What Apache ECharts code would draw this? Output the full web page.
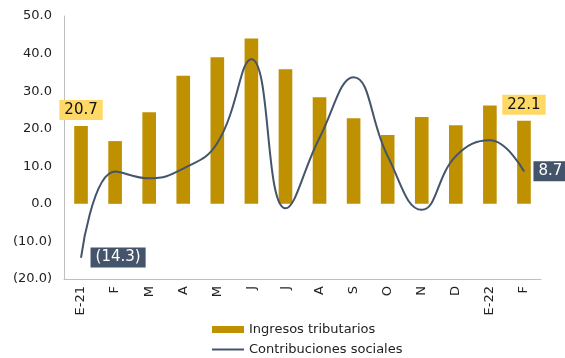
<!DOCTYPE html>
<html>
<head>
<meta charset="utf-8">
<script src="https://cdn.jsdelivr.net/npm/echarts@6/dist/echarts.min.js"></script>
<style>
  html, body { margin: 0; padding: 0; background: #fff; }
  #main { width: 565px; height: 358px; }
</style>
</head>
<body>
<div id="main"></div>
<script>
var months = ["E-21", "F", "M", "A", "M", "J", "J", "A", "S", "O", "N", "D", "E-22", "F"];
var ingresos = [20.7, 16.7, 24.4, 34.1, 39.0, 44.0, 35.8, 28.4, 22.8, 18.3, 23.1, 20.9, 26.2, 22.1];
var contribuciones = [-14.3, 8.6, 6.8, 9.4, 16.2, 38.5, -1.2, 17.6, 33.7, 12.7, -1.6, 12.7, 16.9, 8.7];

var barColor = "#BF9000";
var lineColor = "#44546A";
var fontName = "DejaVu Sans";

function fmt(v) {
  return v < 0 ? "(" + Math.abs(v).toFixed(1) + ")" : v.toFixed(1);
}

// only first and last points carry a label
function withEnds(arr, label) {
  return arr.map(function(v, i) {
    if (i === 0 || i === arr.length - 1) {
      return { value: v, label: label };
    }
    return v;
  });
}

var myChart = echarts.init(document.getElementById("main"));
var option = {
  animation: false,
  textStyle: { fontFamily: fontName },
  grid: { left: 64, right: 24, top: 16, bottom: 79 },
  legend: {
    orient: "vertical",
    left: 211,
    top: 323,
    padding: 0,
    itemWidth: 32,
    itemHeight: 7,
    itemGap: 7,
    selectedMode: false,
    textStyle: { fontFamily: fontName, fontSize: 13, lineHeight: 12, color: "#222" },
    data: [
      { name: "Ingresos tributarios", icon: "rect" },
      { name: "Contribuciones sociales", itemStyle: { opacity: 0 } }
    ]
  },
  xAxis: {
    type: "category",
    data: months,
    axisLine: { onZero: false, lineStyle: { color: "#BFBFBF", width: 1 } },
    axisTick: { show: false },
    axisLabel: {
      rotate: 90,
      interval: 0,
      fontSize: 13,
      color: "#222",
      margin: 7
    }
  },
  yAxis: {
    type: "value",
    min: -20,
    max: 50,
    interval: 10,
    splitLine: { show: false },
    axisTick: { show: false },
    axisLine: { show: true, lineStyle: { color: "#BFBFBF", width: 1 } },
    axisLabel: {
      fontSize: 13,
      color: "#222",
      margin: 12,
      formatter: fmt
    }
  },
  series: [
    {
      name: "Ingresos tributarios",
      type: "bar",
      barWidth: "40%",
      itemStyle: { color: barColor },
      data: withEnds(ingresos, {
        show: true,
        position: "top",
        distance: 6,
        backgroundColor: "#FFD966",
        color: "#111",
        fontSize: 15,
        padding: [3, 5, 2, 5],
        formatter: function(p) { return fmt(p.value); }
      })
    },
    {
      name: "Contribuciones sociales",
      type: "line",
      smooth: 0.45,
      symbol: "circle",
      symbolSize: 1,
      lineStyle: { color: lineColor, width: 2 },
      itemStyle: { color: lineColor },
      data: withEnds(contribuciones, {
        show: true,
        position: "right",
        distance: 9,
        backgroundColor: lineColor,
        color: "#fff",
        fontSize: 15,
        padding: [3, 5, 2, 5],
        formatter: function(p) { return fmt(p.value); }
      })
    }
  ]
};
myChart.setOption(option);
</script>
</body>
</html>
